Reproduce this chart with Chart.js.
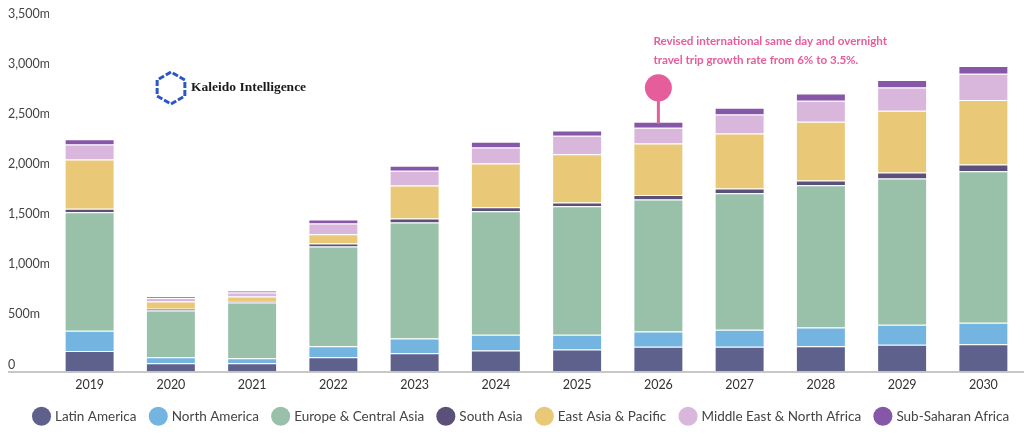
<!DOCTYPE html>
<html>
<head>
<meta charset="utf-8">
<script src="https://cdn.jsdelivr.net/npm/chart.js@4"></script>
<style>
  html, body { margin: 0; padding: 0; background: #fff; }
  #wrap { width: 1024px; height: 441px; position: relative; }
</style>
</head>
<body>
<div id="wrap"><canvas id="trips"></canvas></div>
<script>
// international trips by region, millions
var years = ["2019", "2020", "2021", "2022", "2023", "2024", "2025", "2026", "2027", "2028", "2029", "2030"];
var latinAmerica = [205, 83, 83, 143, 183, 210, 220, 247, 247, 253, 267, 273];
var northAmerica = [203, 60, 50, 110, 147, 157, 147, 153, 170, 187, 200, 214];
var europeCentralAsia = [1183, 467, 557, 994, 1157, 1233, 1283, 1317, 1363, 1420, 1460, 1513];
var southAsia = [34, 17, 13, 30, 40, 40, 37, 46, 47, 47, 60, 67];
var eastAsiaPacific = [493, 73, 47, 93, 330, 437, 483, 514, 550, 586, 616, 643];
var middleEastNorthAfrica = [150, 33, 40, 107, 147, 160, 183, 156, 190, 210, 234, 263];
var subSaharanAfrica = [50, 17, 17, 40, 50, 57, 53, 60, 66, 74, 73, 77];
var yTicks = [0, 500, 1000, 1500, 2000, 2500, 3000, 3500];

var noteIndex = 7; // 2026
var noteLines = ["Revised international same day and overnight", "travel trip growth rate from 6% to 3.5%."];
var pink = "#e65d9c";

function series(label, data, color) {
  return {
    label: label,
    data: data,
    backgroundColor: color,
    borderColor: "rgba(255,255,255,0.55)",
    borderWidth: 1,
    barPercentage: 0.615,
    categoryPercentage: 1,
  };
}

// baseline, logo and the 2026 note
var extras = {
  id: "extras",
  afterLayout: function (chart) {
    // legend sits a bit right of centre and higher in the original
    chart.legend.left += 6;
    chart.legend.right += 6;
    chart.legend.top -= 4;
    chart.legend.bottom -= 4;
  },
  afterDatasetsDraw: function (chart) {
    var c = chart.ctx;
    var area = chart.chartArea;
    var x = chart.scales.x, y = chart.scales.y;

    c.save();
    c.strokeStyle = "#b4b4b4";
    c.lineWidth = 1.5;
    c.beginPath();
    c.moveTo(8, area.bottom + 0.5);
    c.lineTo(chart.width, area.bottom + 0.5);
    c.stroke();

    // logo
    var cx = 171, cy = 88, r = 16;
    c.strokeStyle = "#2b56c6";
    c.lineWidth = 3;
    c.setLineDash([6, 2]);
    c.beginPath();
    for (var i = 0; i < 6; i++) {
      var a = Math.PI / 2 + i * Math.PI / 3;
      var px = cx + r * Math.cos(a), py = cy - r * Math.sin(a);
      if (i === 0) c.moveTo(px, py); else c.lineTo(px, py);
    }
    c.closePath();
    c.stroke();
    c.setLineDash([]);
    c.fillStyle = "#1a1a1a";
    c.font = "bold 13.5px 'Liberation Serif'";
    c.textBaseline = "middle";
    c.fillText("Kaleido Intelligence", 191, 88);

    // note marker
    var total = 0;
    chart.data.datasets.forEach(function (d) { total += d.data[noteIndex]; });
    var mx = x.getPixelForValue(noteIndex);
    var top = y.getPixelForValue(total);
    c.strokeStyle = pink;
    c.lineWidth = 3;
    c.beginPath();
    c.moveTo(mx, top - 34);
    c.lineTo(mx, top + 2);
    c.stroke();
    c.fillStyle = pink;
    c.beginPath();
    c.arc(mx, top - 34, 13.5, 0, Math.PI * 2);
    c.fill();

    c.font = "bold 11.6px Lato";
    c.textBaseline = "middle";
    c.fillText(noteLines[0], mx - 5, 41);
    c.fillText(noteLines[1], mx - 5, 60);
    c.restore();
  },
};

var ctx = document.getElementById("trips");
new Chart(ctx, {
  type: "bar",
  data: {
    labels: years,
    datasets: [
      series("Latin America", latinAmerica, "#5f618d"),
      series("North America", northAmerica, "#74b4e0"),
      series("Europe & Central Asia", europeCentralAsia, "#99c1a9"),
      series("South Asia", southAsia, "#5b5079"),
      series("East Asia & Pacific", eastAsiaPacific, "#e9c978"),
      series("Middle East & North Africa", middleEastNorthAfrica, "#d9b7dc"),
      series("Sub-Saharan Africa", subSaharanAfrica, "#8656a8"),
    ],
  },
  options: {
    responsive: true,
    maintainAspectRatio: false,
    animation: false,
    layout: { padding: { left: 8, right: 0, top: 21, bottom: 4 } },
    scales: {
      x: {
        stacked: true,
        grid: { display: false, drawTicks: false },
        border: { display: false },
        ticks: { color: "#333", font: { family: "Lato", size: 12.5 }, padding: 6 },
      },
      y: {
        stacked: true,
        min: 0,
        max: 3500,
        afterBuildTicks: function (scale) {
          scale.ticks = yTicks.map(function (v) { return { value: v }; });
        },
        afterFit: function (scale) { scale.width = 41; },
        grid: { display: false, drawTicks: false },
        border: { display: false },
        ticks: {
          color: "#444",
          font: { family: "Lato", size: 12.5 },
          crossAlign: "far",
          padding: 0,
          labelOffset: -7,
          callback: function (v) {
            return v === 0 ? "0" : v.toLocaleString("en-US") + "m";
          },
        },
      },
    },
    plugins: {
      tooltip: { enabled: false },
      legend: {
        display: true,
        position: "bottom",
        labels: {
          usePointStyle: true,
          pointStyle: "circle",
          boxWidth: 15,
          boxHeight: 15,
          padding: 15,
          color: "#444",
          font: { family: "Lato", size: 13.5 },
          generateLabels: function (chart) {
            var items = Chart.defaults.plugins.legend.labels.generateLabels(chart);
            items.forEach(function (it) { it.strokeStyle = it.fillStyle; it.lineWidth = 0; });
            return items;
          },
        },
      },
    },
  },
  plugins: [extras],
});
</script>
</body>
</html>
